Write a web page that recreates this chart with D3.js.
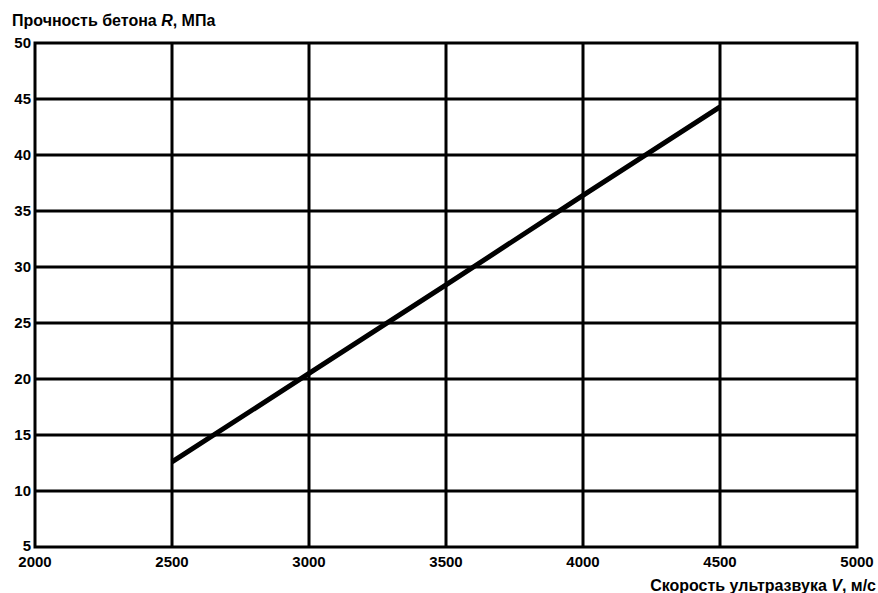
<!DOCTYPE html>
<html>
<head>
<meta charset="utf-8">
<script src="https://cdn.jsdelivr.net/npm/d3@7"></script>
<style>
  body { margin: 0; background: #fff; }
  svg { display: block; }
  text { font-family: "Liberation Sans", Arial, sans-serif; font-weight: bold; fill: #000; }
</style>
</head>
<body>
<div id="chart"></div>
<script>
// скорость ультразвука, м/с
var speed = [2500, 3000, 3500, 4000, 4500];
// прочность бетона, МПа
var strength = [12.6, 20.5, 28.4, 36.4, 44.3];

var xTicks = [2000, 2500, 3000, 3500, 4000, 4500, 5000];
var yTicks = [5, 10, 15, 20, 25, 30, 35, 40, 45, 50];

var width = 878, height = 593;
var margin = {left: 35, right: 21, top: 43, bottom: 46};

var svg = d3.select("#chart")
    .append("svg")
    .attr("width", width)
    .attr("height", height);

var x = d3.scaleLinear()
    .domain([2000, 5000])
    .range([margin.left, width - margin.right]);

var y = d3.scaleLinear()
    .domain([5, 50])
    .range([height - margin.bottom, margin.top]);

// сетка
svg.append("g")
    .selectAll("line.vx")
    .data(xTicks.slice(1, -1))
    .enter()
    .append("line")
    .attr("x1", d => x(d)).attr("x2", d => x(d))
    .attr("y1", y(5)).attr("y2", y(50))
    .attr("stroke", "#000")
    .attr("stroke-width", 3);

svg.append("g")
    .selectAll("line.hy")
    .data(yTicks.slice(1, -1))
    .enter()
    .append("line")
    .attr("x1", x(2000)).attr("x2", x(5000))
    .attr("y1", d => y(d)).attr("y2", d => y(d))
    .attr("stroke", "#000")
    .attr("stroke-width", 3);

svg.append("rect")
    .attr("x", x(2000))
    .attr("y", y(50))
    .attr("width", x(5000) - x(2000))
    .attr("height", y(5) - y(50))
    .attr("fill", "none")
    .attr("stroke", "#000")
    .attr("stroke-width", 3);

// подписи осей
svg.append("g")
    .selectAll("text")
    .data(xTicks)
    .enter()
    .append("text")
    .attr("x", d => x(d))
    .attr("y", y(5) + 20)
    .attr("text-anchor", "middle")
    .style("font-size", "15px")
    .text(d => d);

svg.append("g")
    .selectAll("text")
    .data(yTicks)
    .enter()
    .append("text")
    .attr("x", x(2000) - 4)
    .attr("y", d => y(d) + (d == 5 ? 4 : 5))
    .attr("text-anchor", "end")
    .style("font-size", "15px")
    .text(d => d);

// линия зависимости
var line = d3.line()
    .x((d, i) => x(speed[i]))
    .y(d => y(d));

svg.append("path")
    .datum(strength)
    .attr("d", line)
    .attr("fill", "none")
    .attr("stroke", "#000")
    .attr("stroke-width", 5);

// заголовки
var yTitle = svg.append("text")
    .attr("x", 12)
    .attr("y", 26)
    .style("font-size", "16px");
yTitle.append("tspan").text("Прочность бетона ");
yTitle.append("tspan").style("font-style", "italic").text("R");
yTitle.append("tspan").text(", МПа");

var xTitle = svg.append("text")
    .attr("x", width - 2)
    .attr("y", 591)
    .attr("text-anchor", "end")
    .style("font-size", "16px");
xTitle.append("tspan").text("Скорость ультразвука ");
xTitle.append("tspan").style("font-style", "italic").text("V");
xTitle.append("tspan").text(", м/с");
</script>
</body>
</html>
